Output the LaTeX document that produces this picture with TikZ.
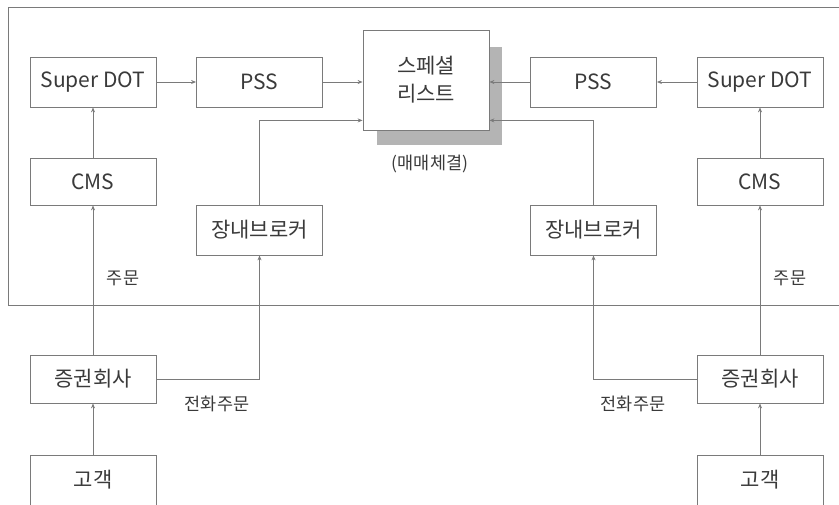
\documentclass[tikz,border=0pt]{standalone}
\usepackage{fontspec}
\setmainfont{Noto Sans CJK KR}
\usetikzlibrary{arrows.meta}

\definecolor{linegray}{HTML}{7A7A7A}
\definecolor{textgray}{HTML}{3A3A3A}
\definecolor{shadowgray}{HTML}{B4B4B4}

\begin{document}
\begin{tikzpicture}[x=1pt, y=-1pt,
  main/.style = {draw=linegray, line width=0.8pt, fill=white, text=textgray,
                 minimum width=126pt, minimum height=50pt, inner sep=0pt,
                 font=\fontsize{21}{28}\selectfont},
  arr/.style = {draw=linegray, line width=0.8pt, -{Stealth[length=5pt, width=4pt]}},
  lbl/.style = {text=textgray, inner sep=0pt, font=\fontsize{17.5}{20}\selectfont}]

\useasboundingbox (0, 0) rectangle (839, 504);

% frame
\draw[draw=linegray, line width=0.8pt] (842, 7) -- (8, 7) -- (8, 305) -- (842, 305);

% shadow of the centre box
\fill[shadowgray] (377, 47) rectangle (502, 145);

\node[main, minimum height=100pt, align=center] (SP) at (426, 80) {스페셜\\리스트};
\node[lbl] (SPlbl) at (430, 164) {(매매체결)};

\node[main] (SD1) at (93, 82) {Super DOT};
\node[main] (PSS1) at (259.5, 82) {PSS};
\node[main] (PSS2) at (593.5, 82) {PSS};
\node[main] (SD2) at (760, 82) {Super DOT};

\node[main, minimum height=47pt] (CMS1) at (93, 181.5) {CMS};
\node[main, minimum height=47pt] (CMS2) at (760, 181.5) {CMS};

\node[main] (BR1) at (259.5, 230) {장내브로커};
\node[main] (BR2) at (593.5, 230) {장내브로커};

\node[main, minimum height=48pt] (FIRM1) at (93, 379) {증권회사};
\node[main, minimum height=48pt] (FIRM2) at (760, 379) {증권회사};

\node[main] (CL1) at (93, 480) {고객};
\node[main] (CL2) at (760, 480) {고객};

\node[lbl] (ORD1) at (123, 278) {주문};
\node[lbl] (ORD2) at (790, 278) {주문};
\node[lbl] (TEL1) at (217, 404) {전화주문};
\node[lbl] (TEL2) at (633, 404) {전화주문};

% left side
\draw[arr] (SD1) -- (PSS1);
\draw[arr] (PSS1.east) -- (PSS1.east -| SP.west);
\draw[arr] (BR1.north) |- ([yshift=10pt]SP.south west);
\draw[arr] (CMS1) -- (SD1);
\draw[arr] (FIRM1) -- (CMS1);
\draw[arr] (CL1) -- (FIRM1);
\draw[arr] (FIRM1.east) -| (BR1.south);

% right side
\draw[arr] (SD2) -- (PSS2);
\draw[arr] (PSS2.west) -- (PSS2.west -| SP.east);
\draw[arr] (BR2.north) |- ([yshift=10pt]SP.south east);
\draw[arr] (CMS2) -- (SD2);
\draw[arr] (FIRM2) -- (CMS2);
\draw[arr] (CL2) -- (FIRM2);
\draw[arr] (FIRM2.west) -| (BR2.south);

\end{tikzpicture}
\end{document}
